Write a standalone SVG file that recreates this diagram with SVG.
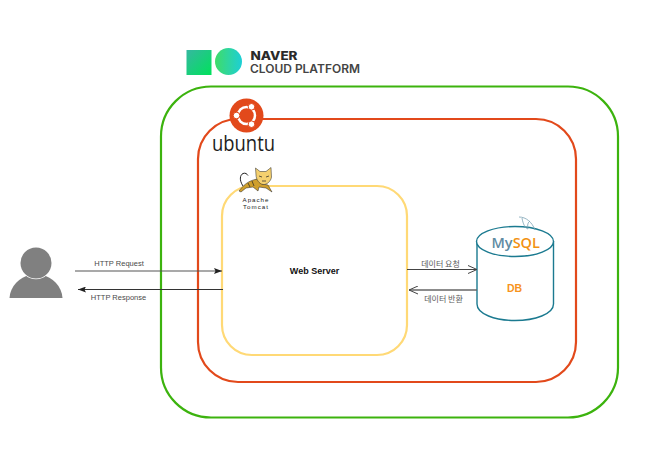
<svg xmlns="http://www.w3.org/2000/svg" width="666" height="463" viewBox="0 0 666 463">
<style>
text{font-family:"Liberation Sans",Arial,"Noto Sans CJK KR",sans-serif}
.c{fill:none}
.l{font-size:7.500px;fill:#4a4a4a;text-anchor:middle}
.k{font-size:8px;fill:#5a5a5a;text-anchor:middle;font-family:"Noto Sans CJK KR",sans-serif}
.tc{font-size:6.200px;fill:#222;text-anchor:middle;letter-spacing:1px}
</style>
<defs>
<linearGradient id="g1" x1="0" y1="0" x2="1" y2="1"><stop offset="0" stop-color="#35b8a0"/><stop offset="1" stop-color="#00e25b"/></linearGradient>
<linearGradient id="g2" x1="0" y1="0" x2="1" y2="0"><stop offset="0" stop-color="#3fdc68"/><stop offset="1" stop-color="#1dcfd6"/></linearGradient>
<marker id="solid" markerUnits="userSpaceOnUse" markerWidth="9" markerHeight="6" refX="8" refY="3" orient="auto"><path d="M0 0L8 3L0 6L1.500 3Z" fill="#222"/></marker>
<marker id="open" markerUnits="userSpaceOnUse" markerWidth="11" markerHeight="9" refX="10" refY="4.500" orient="auto"><path d="M1 0.500L10 4.500L1 8.500" fill="none" stroke="#444" stroke-width="1"/></marker>
</defs>
<rect width="666" height="463" fill="#fff"/>
<g id="naver-logo">
<rect x="186.500" y="50" width="25" height="25" fill="url(#g1)"/>
<circle cx="228.500" cy="61.500" r="13.500" fill="url(#g2)"/>
<text x="250.500" y="60" font-size="11.500" font-weight="800" fill="#2a2a2a" textLength="47" lengthAdjust="spacingAndGlyphs" style="font-family:Inter,sans-serif">NAVER</text>
<text x="250" y="73" font-size="11.500" font-weight="600" fill="#444" textLength="110" lengthAdjust="spacingAndGlyphs" style="font-family:Inter,sans-serif">CLOUD PLATFORM</text>
</g>
<g id="ncp-boundary"><rect x="161" y="86.500" width="457" height="331" rx="50" fill="none" stroke="#3cb30e" stroke-width="2.200"/></g>
<g id="ubuntu-boundary">
<rect x="198" y="119" width="378" height="263" rx="40" fill="none" stroke="#e2491b" stroke-width="2.200"/>
<circle cx="246.500" cy="115.500" r="17" fill="#e2491b"/>
<circle cx="246.500" cy="115.500" r="8.500" fill="none" stroke="#fff" stroke-width="2.500"/>
<circle cx="236.500" cy="115.500" r="3.300" fill="#fff" stroke="#e2491b"/>
<circle cx="251.500" cy="106.800" r="3.300" fill="#fff" stroke="#e2491b"/>
<circle cx="251.500" cy="124.200" r="3.300" fill="#fff" stroke="#e2491b"/>
<text x="212" y="150.500" font-size="22" fill="#1d1d1d" textLength="63" lengthAdjust="spacingAndGlyphs" style="font-family:'Open Sans',sans-serif">ubuntu</text>
</g>
<g id="web-server">
<rect x="222" y="186" width="185" height="169" rx="30" fill="#fff" stroke="#ffd976" stroke-width="2.200"/>
<text x="314.500" y="274" font-size="9" font-weight="700" fill="#111" text-anchor="middle">Web Server</text>
<path d="M239 191C243 186 247 181 257 179L262 184L268 185L272 192L266 188L259 187L258 191L253 187L246 188L241 192Z" fill="#cf9f2c" stroke="#222" stroke-width="0.500"/>
<path d="M255.500 168L260 171.500L266 171.500L271 167.500L271.500 177C271 181 267 185 263 184.500C259 184 256 179 256 175Z" fill="#f4d06f" stroke="#222" stroke-width="0.500"/>
<path d="M259 176L262 177M266 177L269 176M262 181H266M248 183L250 187M252 181L254 186" fill="none" stroke="#222" stroke-width="0.700"/>
<path d="M243 186C239 180 240 175 243 173.500C245.500 172.500 247 174 248 175.500" fill="none" stroke="#222" stroke-width="1"/>
<text class="tc" x="256" y="201.500">Apache</text>
<text class="tc" x="256" y="209">Tomcat</text>
</g>
<g id="db">
<path d="M477 241V304C477 314 495 320.500 515 320.500C535 320.500 553.500 314 553.500 304V241" fill="#fff" stroke="#1b7a90" stroke-width="1.400"/>
<ellipse cx="515" cy="241.500" rx="38.500" ry="15" fill="#fff" stroke="#1b7a90" stroke-width="1.400"/>
<text x="491.500" y="247.500" font-size="14.500" font-weight="600" fill="#5f8ba3" style="font-family:'Open Sans',sans-serif">My<tspan fill="#f29111">SQL</tspan></text>
<path d="M519 217C526 217 532 222 535 230M522 218C523 224 525 228 528 229C527 225 528 222 530 221" fill="none" stroke="#7da3b5" stroke-width="0.800"/>
<text x="514.500" y="292" font-size="10.500" font-weight="700" fill="#f7931e" text-anchor="middle">DB</text>
</g>
<g id="user">
<path d="M9.500 298C10 286 20 277 30 275H42C52 277 62 286 62.500 298Z" fill="#808080"/>
<circle cx="36" cy="263" r="15.500" fill="#808080" stroke="#fff" stroke-width="1.500" paint-order="stroke"/>
</g>
<g id="connectors">
<line class="c" x1="75" y1="271" x2="222" y2="271" stroke="#555" stroke-width="1.100" marker-end="url(#solid)"/>
<line class="c" x1="223" y1="289.500" x2="78" y2="289.500" stroke="#333" marker-end="url(#solid)"/>
<line class="c" x1="407" y1="269.500" x2="477" y2="269.500" stroke="#444" marker-end="url(#open)"/>
<line class="c" x1="477" y1="290" x2="409" y2="290" stroke="#666" stroke-width="1.300" marker-end="url(#open)"/>
<text class="l" x="119" y="266">HTTP Request</text>
<text class="l" x="118.500" y="300">HTTP Response</text>
<text class="k" x="440.500" y="267">데이터 요청</text>
<text class="k" x="443.500" y="302">데이터 반환</text>
</g>
</svg>
